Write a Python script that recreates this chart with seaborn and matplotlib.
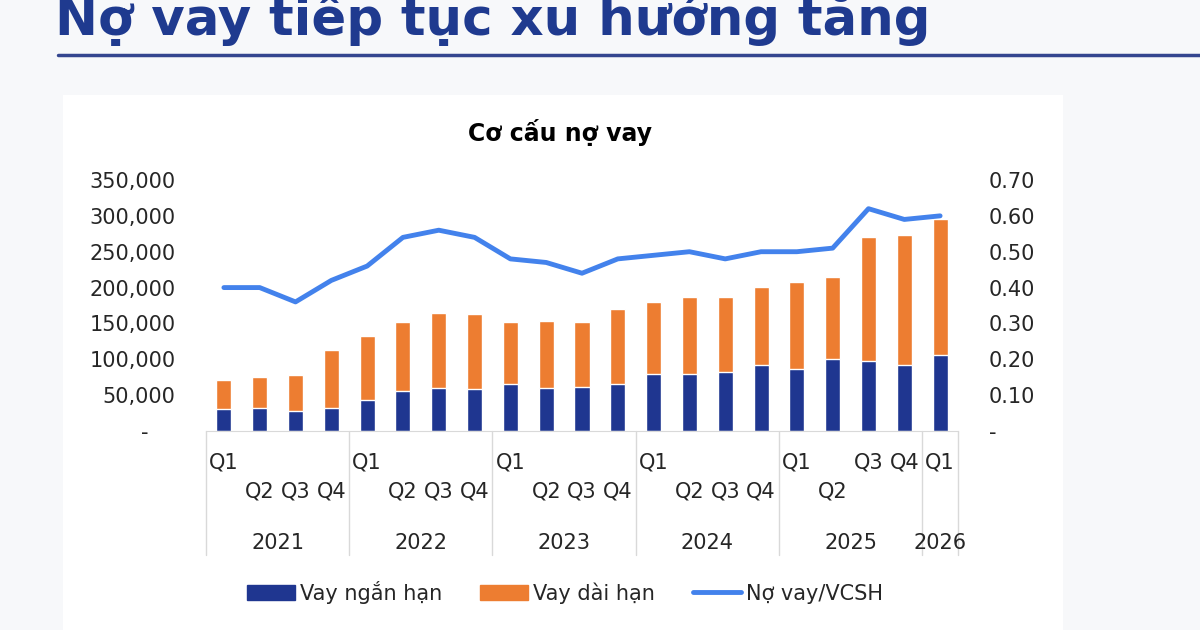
import numpy as np
import matplotlib
matplotlib.use("Agg")
import matplotlib.pyplot as plt
import seaborn as sns
from matplotlib.patches import Patch, Rectangle
from matplotlib.lines import Line2D
from matplotlib.transforms import blended_transform_factory

# Du lieu co cau no vay (ty dong) va ty le No vay/VCSH
years = ["2021", "2022", "2023", "2024", "2025", "2026"]
quarters = ["Q1", "Q2", "Q3", "Q4"] * 5 + ["Q1"]
periods = [f"{q} {y}" for y in years[:5] for q in ["Q1", "Q2", "Q3", "Q4"]] + ["Q1 2026"]
vay_ngan_han = [30700, 32500, 28300, 32500, 43200, 55800, 59500, 58600, 65500, 59500, 61800,
                65100, 79500, 79500, 81800, 92000, 86500, 100400, 98000, 92000, 106000]
vay_dai_han = [40400, 43200, 49800, 80500, 89300, 95800, 104600, 104500, 86500, 94300, 90600,
               105000, 99900, 106900, 105500, 109200, 121300, 114800, 172100, 181300, 189200]
no_vay_vcsh = [0.40, 0.40, 0.36, 0.42, 0.46, 0.54, 0.56, 0.54, 0.48, 0.47, 0.44,
               0.48, 0.49, 0.50, 0.48, 0.50, 0.50, 0.51, 0.62, 0.59, 0.60]

NAVY = "#1F3690"
ORANGE = "#ED7D31"
LINE = "#4382EC"
TXT = "#262626"

sns.set_style("white")
plt.rcParams["font.family"] = ["DejaVu Sans"]

fig = plt.figure(figsize=(12, 6.3), dpi=100)
fig.patch.set_facecolor("#F7F8FA")
fig.add_artist(Rectangle((63 / 1200, 0), 1000 / 1200, 535 / 630, transform=fig.transFigure,
                         facecolor="white", edgecolor="none", zorder=0))

# tieu de trang (bi cat o mep tren nhu anh goc)
fig.text(55 / 1200, 1 - 35 / 630, "Nợ vay tiếp tục xu hướng tăng", weight="bold", size=37,
         color="#1F3A8F", va="baseline")
fig.add_artist(Line2D([58 / 1200, 1], [1 - 55 / 630] * 2, transform=fig.transFigure,
                      color="#34468F", lw=2.5))

ax = fig.add_axes([206 / 1200, 199 / 630, 752 / 1200, 251 / 630])
ax.set_facecolor("none")

total = np.array(vay_ngan_han) + np.array(vay_dai_han)
sns.barplot(x=periods, y=total, color=ORANGE, saturation=1, width=0.42, errorbar=None, ax=ax)
sns.barplot(x=periods, y=vay_ngan_han, color=NAVY, saturation=1, width=0.42, errorbar=None, ax=ax)

ax.set_xlim(-0.5, len(periods) - 0.5)
ax.set_ylim(0, 350000)
yt = np.arange(0, 350001, 50000)
ax.set_yticks(yt)
ax.set_yticklabels(["-    " if v == 0 else f"{v:,}" for v in yt])
ax.set_xticks([])
ax.set_xlabel("")
ax.set_ylabel("")
ax.tick_params(axis="y", length=0, pad=22, labelsize=15, labelcolor=TXT)
for s in ["top", "left", "right"]:
    ax.spines[s].set_visible(False)
ax.spines["bottom"].set_color("#D9D9D9")

ax2 = ax.twinx()
sns.lineplot(x=np.arange(len(periods)), y=no_vay_vcsh, color=LINE, linewidth=3.5, ax=ax2)
ax2.set_ylim(0, 0.7)
rt = np.arange(0, 0.71, 0.1)
ax2.set_yticks(rt)
ax2.set_yticklabels(["-" if v < 0.01 else f"{v:.2f}" for v in rt])
ax2.tick_params(axis="y", length=0, pad=22, labelsize=15, labelcolor=TXT)
for s in ax2.spines.values():
    s.set_visible(False)
ax2.set_ylabel("")

# nhan truc hoanh nhieu cap
tr = blended_transform_factory(ax.transData, ax.transAxes)
stagger = [0, 1, 1, 1] * 4 + [0, 1, 0, 0] + [0]
for i, q in enumerate(quarters):
    ax.text(i, -0.127 if stagger[i] == 0 else -0.243, q, transform=tr, ha="center",
            va="center", size=15, color=TXT)
bounds = [-0.5, 3.5, 7.5, 11.5, 15.5, 19.5, 20.5]
for b in bounds:
    ax.plot([b, b], [0, -0.494], transform=tr, color="#D9D9D9", lw=1, clip_on=False)
for k, y in enumerate(years):
    ax.text((bounds[k] + bounds[k + 1]) / 2, -0.446, y, transform=tr, ha="center",
            va="center", size=15, color=TXT)

fig.text(560 / 1200, 1 - 133 / 630, "Cơ cấu nợ vay", weight="bold", size=17,
         ha="center", va="center", color="black")

handles = [Patch(color=NAVY), Patch(color=ORANGE), Line2D([], [], color=LINE, lw=3.5)]
fig.legend(handles, ["Vay ngắn hạn", "Vay dài hạn", "Nợ vay/VCSH"], loc="center",
           bbox_to_anchor=(565 / 1200, 1 - 592 / 630), ncol=3, frameon=False, fontsize=15,
           handlelength=2.3, handleheight=0.7, handletextpad=0.25, columnspacing=1.8,
           labelcolor=TXT)

fig.savefig("out.png", dpi=100, facecolor=fig.get_facecolor())
